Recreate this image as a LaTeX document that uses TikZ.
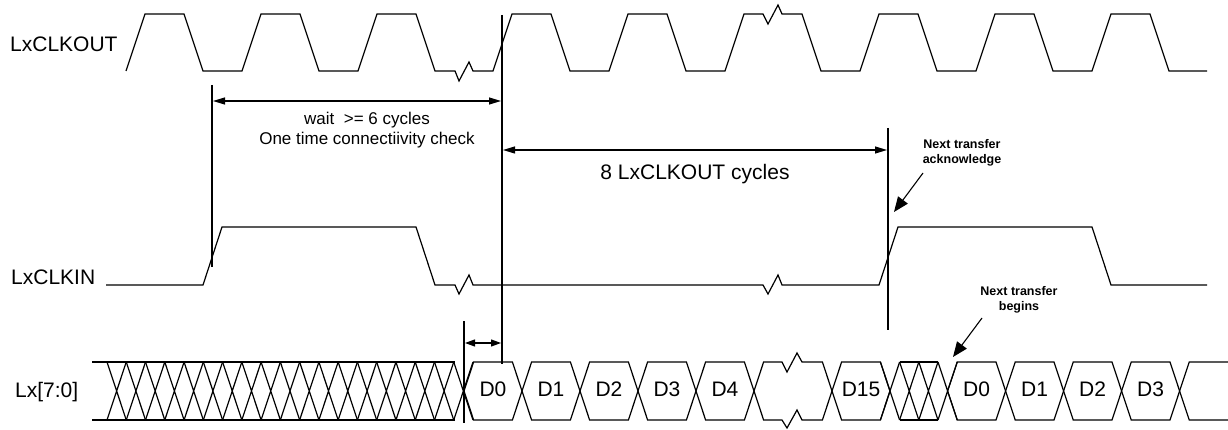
\documentclass[tikz,border=0pt]{standalone}
\usepackage{fontspec}
\setmainfont{Liberation Sans}
\usetikzlibrary{arrows.meta}
\begin{document}
\begin{tikzpicture}[x=1pt,y=-1pt,
  wave/.style={line width=1.2pt, line join=miter},
  marker/.style={line width=2.2pt},
  dim/.style={line width=1.1pt, {Triangle[length=12pt,width=7pt]}-{Triangle[length=12pt,width=7pt]}},
  smalldim/.style={line width=1.1pt, {Triangle[length=10pt,width=7pt]}-{Triangle[length=10pt,width=7pt]}},
  callout/.style={line width=1.1pt, -{Triangle[length=15pt,width=12pt]}},
  siglabel/.style={anchor=base west, inner sep=0pt, font=\fontsize{21}{25}\selectfont},
  datalabel/.style={anchor=base, inner sep=0pt, font=\fontsize{21}{25}\selectfont},
  note/.style={anchor=base, inner sep=0pt, font=\fontsize{17}{20}\selectfont},
  bignote/.style={anchor=base, inner sep=0pt, font=\fontsize{21}{25}\selectfont},
  boldnote/.style={anchor=base, inner sep=0pt, font=\bfseries\fontsize{12.5}{15}\selectfont}]
\useasboundingbox (0,0) rectangle (1228,430);

% signal labels
\node[siglabel] (lclkout) at (10,52) {LxCLKOUT};
\node[siglabel] (lclkin) at (11,284) {LxCLKIN};
\node[siglabel] (lbus) at (15,397) {Lx[7:0]};

% LxCLKOUT
\draw[wave] (126,71) -- (145,14) -- (184,14) -- (203,71) -- (242,71) -- (261,14) -- (300,14) -- (319,71) -- (358,71) -- (377,14) -- (416,14) -- (435,71) -- (455,71) -- (459,81) -- (469,62) -- (473,71) -- (493,71) -- (512,14) -- (551,14) -- (570,71) -- (609,71) -- (628,14) -- (667,14) -- (686,71) -- (725,71) -- (744,14) -- (763,14) -- (768,24) -- (778,5) -- (782,14) -- (802,14) -- (821,71) -- (860,71) -- (879,14) -- (918,14) -- (937,71) -- (976,71) -- (995,14) -- (1034,14) -- (1053,71) -- (1092,71) -- (1111,14) -- (1150,14) -- (1169,71) -- (1207,71);

% LxCLKIN
\draw[wave] (106,285) -- (203,285) -- (222,227) -- (416,227) -- (435,285) -- (455,285) -- (459,294) -- (469,275) -- (473,285) -- (763,285) -- (768,294) -- (778,275) -- (782,285) -- (879,285) -- (898,227) -- (1092,227) -- (1111,285) -- (1207,285);

% bus: left hatched region
\draw[wave] (92,362) -- (455,362) (92,420) -- (455,420);
\foreach \k in {0,...,18} {
  \pgfmathsetmacro\xa{107+\k*19.2632}
  \pgfmathsetmacro\xb{\xa+19.2632}
  \draw[wave] (\xa,362) -- (\xb,420) (\xa,420) -- (\xb,362);
}
% first data burst
\foreach \c/\t in {464/D0,522/D1,580/D2,638/D3,696/D4} {
  \draw[wave] (\c,391) -- (\c+9.6,362) -- (\c+48.4,362) -- (\c+58,391) -- (\c+48.4,420) -- (\c+9.6,420) -- cycle;
  \node[datalabel] (a\t) at (\c+29,396) {\t};
}
% break cell
\draw[wave] (754,391) -- (763.6,362) -- (782,362) -- (787,372) -- (797,353) -- (802,362) -- (822.4,362) -- (832,391) -- (822.4,420) -- (802,420) -- (797,410) -- (787,428) -- (782,420) -- (763.6,420) -- cycle;
% D15
\draw[wave] (832,391) -- (841.6,362) -- (880.4,362) -- (890,391) -- (880.4,420) -- (841.6,420) -- cycle;
\node[datalabel] (aD15) at (861,396) {D15};
% right hatched region
\draw[wave] (899.6,362) -- (938,362) (899.6,420) -- (938,420);
\foreach \k in {0,...,3} {
  \pgfmathsetmacro\xa{880.4+\k*19.2}
  \pgfmathsetmacro\xb{\xa+19.2}
  \draw[wave] (\xa,362) -- (\xb,420) (\xa,420) -- (\xb,362);
}
% second data burst
\foreach \c/\t in {947.6/D0,1005.6/D1,1063.6/D2,1121.6/D3} {
  \draw[wave] (\c,391) -- (\c+9.6,362) -- (\c+48.4,362) -- (\c+58,391) -- (\c+48.4,420) -- (\c+9.6,420) -- cycle;
  \node[datalabel] (b\t) at (\c+29,396) {\t};
}
\draw[wave] (1228,362) -- (1189.2,362) -- (1179.6,391) -- (1189.2,420) -- (1228,420);

% marker lines
\coordinate (m1t) at (212,85);  \coordinate (m1b) at (212,267);
\coordinate (m2t) at (502,15);  \coordinate (m2b) at (502,364);
\coordinate (m3t) at (888,128); \coordinate (m3b) at (888,330);
\coordinate (m4t) at (464,321); \coordinate (m4b) at (464,423);
\draw[marker] (m1t) -- (m1b);
\draw[marker] (m2t) -- (m2b);
\draw[marker] (m3t) -- (m3b);
\draw[marker] (m4t) -- (m4b);

% dimension arrows
\coordinate (w1) at (213,101); \coordinate (w2) at (501,101);
\draw[dim] (w1) -- (w2);
\node[note] (wait) at (367,125) {wait\ \ >= 6 cycles};
\node[note] (check) at (367,145) {One time connectiivity check};

\coordinate (c1) at (503,150); \coordinate (c2) at (887,150);
\draw[dim] (c1) -- (c2);
\node[bignote] (eight) at (695,180) {8 LxCLKOUT cycles};

\coordinate (s1) at (465,343); \coordinate (s2) at (501,343);
\draw[smalldim] (s1) -- (s2);

% callouts
\node[boldnote] (ack1) at (962,149) {Next transfer};
\node[boldnote] (ack2) at (962,164) {acknowledge};
\coordinate (ackfrom) at (923,173); \coordinate (ackto) at (894,212);
\draw[callout] (ackfrom) -- (ackto);

\node[boldnote] (beg1) at (1019,295) {Next transfer};
\node[boldnote] (beg2) at (1019,310) {begins};
\coordinate (begfrom) at (982,318); \coordinate (begto) at (953,357);
\draw[callout] (begfrom) -- (begto);
\end{tikzpicture}
\end{document}
